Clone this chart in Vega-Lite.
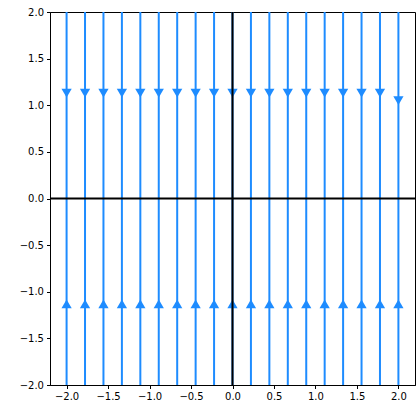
{
  "$schema": "https://vega.github.io/schema/vega-lite/v6.json",
  "width": 365,
  "height": 373,
  "autosize": "none",
  "padding": {"left": 50, "top": 12, "right": 2, "bottom": 19},
  "config": {
    "view": {"stroke": "#000000", "strokeWidth": 1},
    "axis": {
      "grid": false,
      "domainColor": "#000000",
      "tickColor": "#000000",
      "tickSize": 3.5,
      "labelFont": "DejaVu Sans",
      "labelFontSize": 10,
      "labelColor": "#000000",
      "labelPadding": 3,
      "title": null
    }
  },
  "datasets": {
    "streams": [
      {"x": -2.0}, {"x": -1.7778}, {"x": -1.5556}, {"x": -1.3333}, {"x": -1.1111},
      {"x": -0.8889}, {"x": -0.6667}, {"x": -0.4444}, {"x": -0.2222}, {"x": 0.0},
      {"x": 0.2222}, {"x": 0.4444}, {"x": 0.6667}, {"x": 0.8889}, {"x": 1.1111},
      {"x": 1.3333}, {"x": 1.5556}, {"x": 1.7778}, {"x": 2.0}
    ],
    "arrows": [
      {"x": -2.0, "y": 1.13, "dir": "down"}, {"x": -1.7778, "y": 1.13, "dir": "down"},
      {"x": -1.5556, "y": 1.13, "dir": "down"}, {"x": -1.3333, "y": 1.13, "dir": "down"},
      {"x": -1.1111, "y": 1.13, "dir": "down"}, {"x": -0.8889, "y": 1.13, "dir": "down"},
      {"x": -0.6667, "y": 1.13, "dir": "down"}, {"x": -0.4444, "y": 1.13, "dir": "down"},
      {"x": -0.2222, "y": 1.13, "dir": "down"}, {"x": 0.0, "y": 1.13, "dir": "down"},
      {"x": 0.2222, "y": 1.13, "dir": "down"}, {"x": 0.4444, "y": 1.13, "dir": "down"},
      {"x": 0.6667, "y": 1.13, "dir": "down"}, {"x": 0.8889, "y": 1.13, "dir": "down"},
      {"x": 1.1111, "y": 1.13, "dir": "down"}, {"x": 1.3333, "y": 1.13, "dir": "down"},
      {"x": 1.5556, "y": 1.13, "dir": "down"}, {"x": 1.7778, "y": 1.13, "dir": "down"},
      {"x": 2.0, "y": 1.05, "dir": "down"},
      {"x": -2.0, "y": -1.13, "dir": "up"}, {"x": -1.7778, "y": -1.13, "dir": "up"},
      {"x": -1.5556, "y": -1.13, "dir": "up"}, {"x": -1.3333, "y": -1.13, "dir": "up"},
      {"x": -1.1111, "y": -1.13, "dir": "up"}, {"x": -0.8889, "y": -1.13, "dir": "up"},
      {"x": -0.6667, "y": -1.13, "dir": "up"}, {"x": -0.4444, "y": -1.13, "dir": "up"},
      {"x": -0.2222, "y": -1.13, "dir": "up"}, {"x": 0.0, "y": -1.13, "dir": "up"},
      {"x": 0.2222, "y": -1.13, "dir": "up"}, {"x": 0.4444, "y": -1.13, "dir": "up"},
      {"x": 0.6667, "y": -1.13, "dir": "up"}, {"x": 0.8889, "y": -1.13, "dir": "up"},
      {"x": 1.1111, "y": -1.13, "dir": "up"}, {"x": 1.3333, "y": -1.13, "dir": "up"},
      {"x": 1.5556, "y": -1.13, "dir": "up"}, {"x": 1.7778, "y": -1.13, "dir": "up"},
      {"x": 2.0, "y": -1.13, "dir": "up"}
    ],
    "origin": [{"v": 0}]
  },
  "layer": [
    {
      "data": {"name": "streams"},
      "mark": {"type": "rule", "color": "#1e8cff", "strokeWidth": 2},
      "encoding": {
        "x": {
          "field": "x", "type": "quantitative",
          "scale": {"domain": [-2.2, 2.2], "nice": false, "zero": false},
          "axis": {"values": [-2, -1.5, -1, -0.5, 0, 0.5, 1, 1.5, 2], "format": ".1f"}
        },
        "y": {"datum": -2, "type": "quantitative",
          "scale": {"domain": [-2, 2], "nice": false, "zero": false},
          "axis": {"values": [-2, -1.5, -1, -0.5, 0, 0.5, 1, 1.5, 2], "format": ".1f"}
        },
        "y2": {"datum": 2}
      }
    },
    {
      "data": {"name": "arrows"},
      "mark": {"type": "point", "filled": true, "opacity": 1, "color": "#1e8cff", "size": 105},
      "encoding": {
        "x": {"field": "x", "type": "quantitative"},
        "y": {"field": "y", "type": "quantitative"},
        "shape": {
          "field": "dir", "type": "nominal",
          "scale": {"domain": ["down", "up"], "range": ["triangle-down", "triangle-up"]},
          "legend": null
        }
      }
    },
    {
      "data": {"name": "origin"},
      "mark": {"type": "rule", "color": "#000000", "strokeWidth": 2},
      "encoding": {"x": {"field": "v", "type": "quantitative"}}
    },
    {
      "data": {"name": "origin"},
      "mark": {"type": "rule", "color": "#000000", "strokeWidth": 2},
      "encoding": {"y": {"field": "v", "type": "quantitative"}}
    }
  ]
}
